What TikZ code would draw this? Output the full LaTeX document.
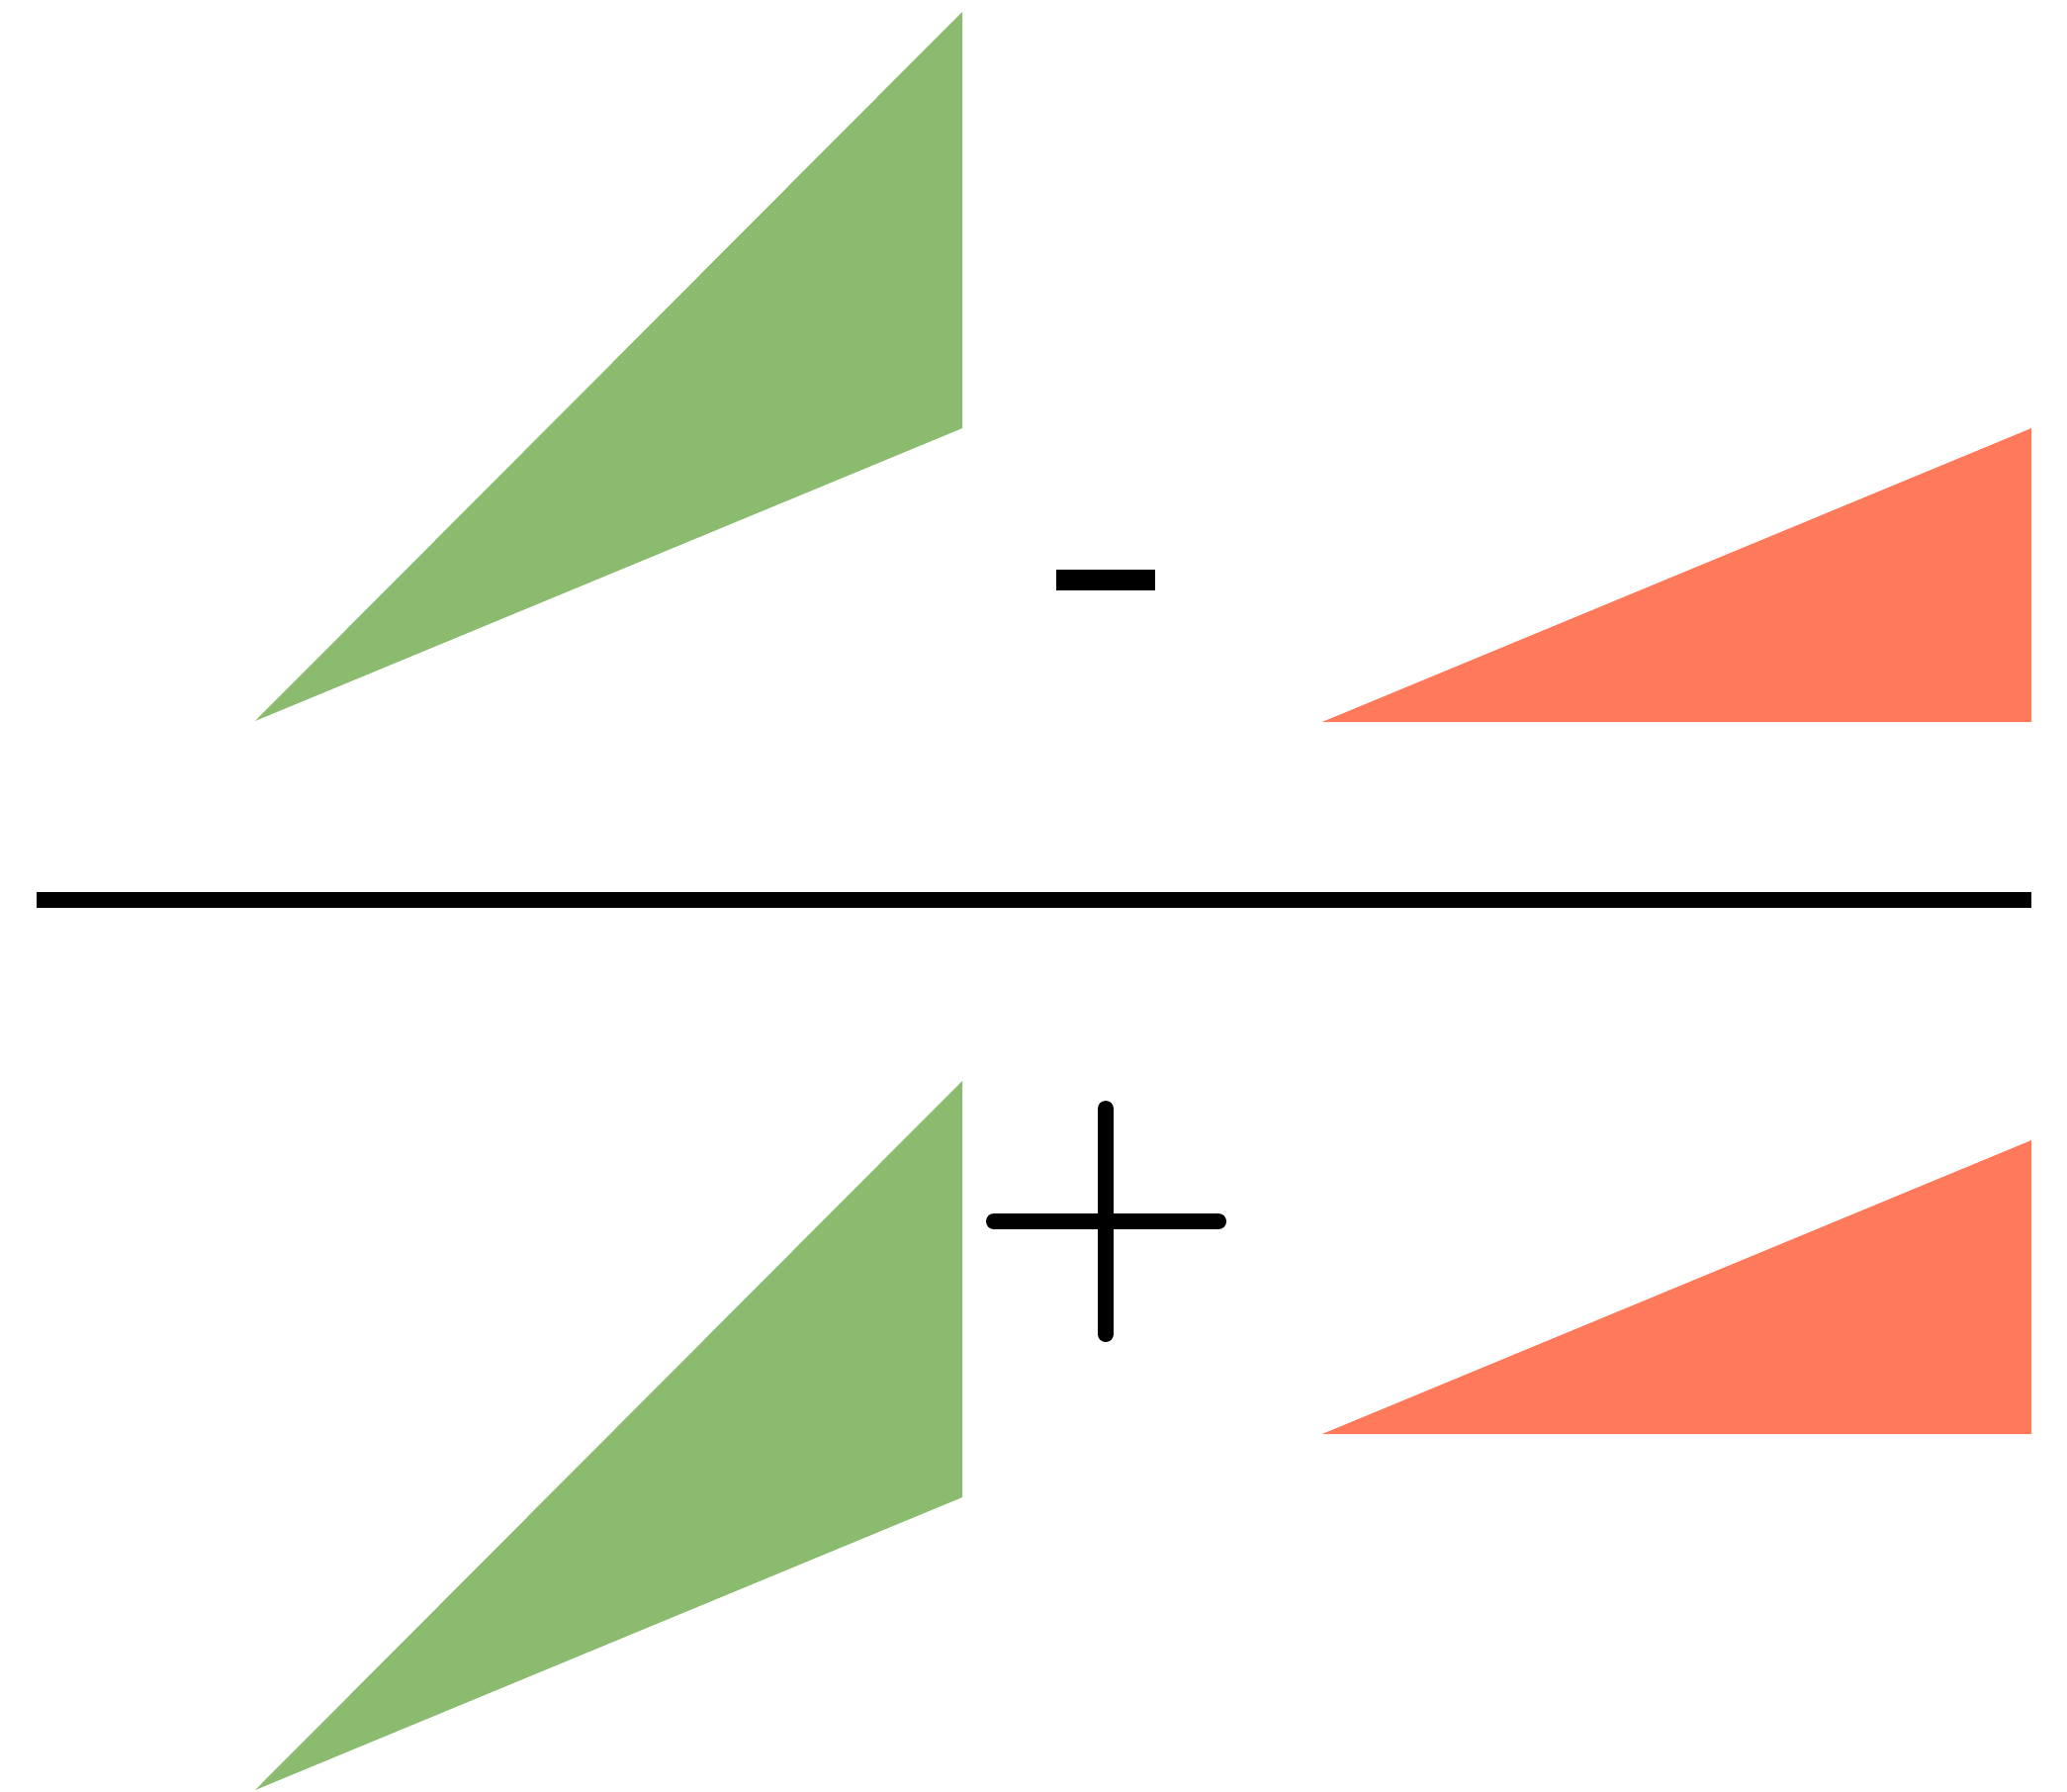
\documentclass[tikz,border=0pt]{standalone}
\usepackage{tikz}
\usepackage{xcolor}
\usetikzlibrary{calc}
\definecolor{cGreen}{HTML}{8ABB6E}
\definecolor{cRed}{HTML}{FF7A5A}

\begin{document}
\begin{tikzpicture}[x=0.01cm, y=-0.01cm]
    \useasboundingbox (0,0) rectangle (2090,1812);
    % wedges, top row and bottom row
    \foreach \gy/\ry in {0/0, 1081/720}{
      \fill[cGreen] (258,729+\gy) -- (973,12+\gy) -- (973,433+\gy) -- cycle;
      \fill[cRed] (1337,730+\ry) -- (2054,433+\ry) -- (2054,730+\ry) -- cycle;
    }
    % minus
    \fill[black] (1068,576) rectangle (1168,597);
    % fraction bar
    \draw[line width=0.16cm, draw=black] (37,910) -- (2054,910);
    % plus
    \draw[line width=0.16cm, line cap=round] (1005,1235) -- (1232,1235);
    \draw[line width=0.16cm, line cap=round] (1118,1121) -- (1118,1349);
  \end{tikzpicture}
\end{document}
